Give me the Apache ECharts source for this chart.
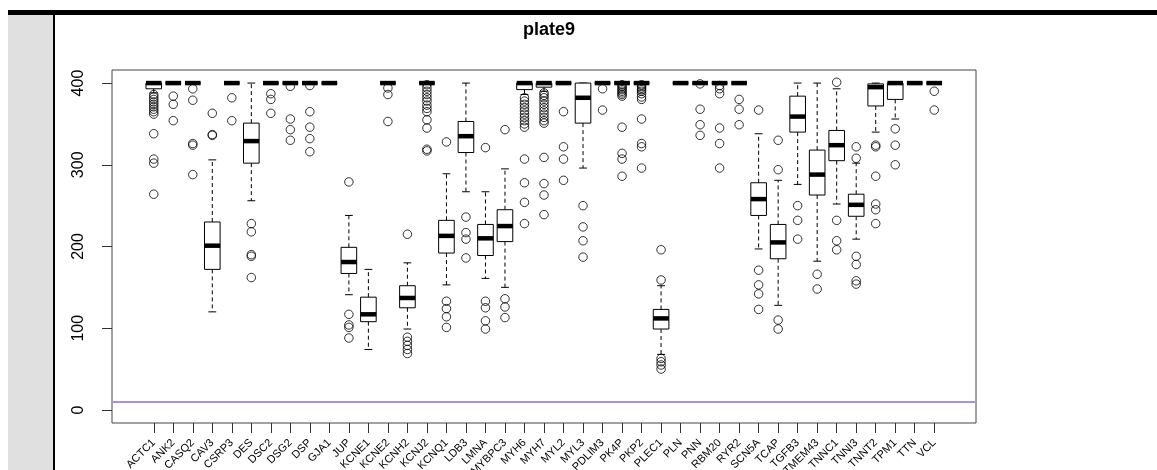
<!DOCTYPE html>
<html><head><meta charset="utf-8">
<script src="https://cdn.jsdelivr.net/npm/echarts@6/dist/echarts.min.js"></script>
<style>html,body{margin:0;padding:0;background:#fff}#c{width:1157px;height:470px}</style>
</head><body><div id="c"></div>
<script>
const genes = ['ACTC1','ANK2','CASQ2','CAV3','CSRP3','DES','DSC2','DSG2','DSP','GJA1','JUP','KCNE1','KCNE2','KCNH2','KCNJ2','KCNQ1','LDB3','LMNA','MYBPC3','MYH6','MYH7','MYL2','MYL3','PDLIM3','PK4P','PKP2','PLEC1','PLN','PNN','RBM20','RYR2','SCN5A','TCAP','TGFB3','TMEM43','TNNC1','TNNI3','TNNT2','TPM1','TTN','VCL'];
const whiskerLow = [388,400,400,120,400,256,400,400,400,400,141,74,400,99,400,153,267,161,150,386,390,400,296,400,400,400,68,400,400,400,400,197,128,276,182,252,209,340,356,400,400];
const q1         = [393,400,400,172,400,302,400,400,400,400,167,108,400,125,400,192,315,189,206,392,395,400,351,400,400,400,99,400,400,400,400,238,185,340,263,305,237,372,380,400,400];
const median     = [400,400,400,201,400,329,400,400,400,400,181,117,400,137,400,213,335,210,225,400,400,400,382,400,400,400,112,400,400,400,400,258,205,359,288,324,251,395,400,400,400];
const q3         = [400,400,400,230,400,351,400,400,400,400,199,138,400,152,400,232,353,227,245,400,400,400,400,400,400,400,123,400,400,400,400,278,227,384,318,342,264,399,400,400,400];
const whiskerHigh= [400,400,400,306,400,400,400,400,400,400,238,172,400,180,400,289,400,267,295,400,400,400,400,400,400,400,152,400,400,400,400,338,281,400,400,393,302,400,400,400,400];
const outliers = [
  [386,383,380,377,374,371,368,365,362,338,307,302,264],
  [384,374,354],
  [393,379,326,324,288],
  [363,337,336],
  [382,354],
  [228,218,190,188,162],
  [387,380,363],
  [396,356,343,330],
  [397,365,346,332,316],
  [],
  [279,117,104,101,88],
  [],
  [394,386,353],
  [215,89,84,79,74,69],
  [398,394,390,386,382,378,373,369,365,355,345,319,317],
  [328,133,124,114,101],
  [236,217,209,186],
  [321,133,125,109,99],
  [343,136,126,113],
  [382,378,374,370,366,362,358,354,350,346,307,278,254,228],
  [388,385,382,378,374,370,366,362,358,354,351,309,277,263,239],
  [365,322,307,281],
  [250,224,207,187],
  [393,367],
  [398,396,394,392,390,388,386,384,346,314,307,286],
  [398,396,394,392,390,387,383,380,356,326,322,296],
  [196,159,63,59,55,50],
  [],
  [399,368,349,336],
  [397,393,387,345,326,296],
  [380,368,349],
  [367,171,153,142,123],
  [330,294,110,99],
  [250,232,209],
  [166,148],
  [401,232,207,196],
  [322,308,188,178,158,154],
  [324,322,286,252,245,228],
  [344,324,300],
  [],
  [390,367]
];
const yTicks = [0,100,200,300,400];
const refLineValue = 10;
const chartTitle = 'plate9';

const FONT = '"Liberation Sans", Arial, Helvetica, sans-serif';
const xPositions = genes.map((g, i) => i + 1);
const boxData = genes.map((g, i) => [i + 1, whiskerLow[i], q1[i], median[i], q3[i], whiskerHigh[i]]);
const outlierData = [];
outliers.forEach((arr, i) => arr.forEach(v => outlierData.push([i + 1, v])));

const chart = echarts.init(document.getElementById('c'), null, {renderer: 'canvas'});
chart.setOption({
  animation: false,
  backgroundColor: '#fff',
  title: {
    text: chartTitle, left: 544, top: 16, textAlign: 'center',
    textStyle: {fontSize: 18, fontWeight: 'bold', color: '#000', fontFamily: FONT}
  },
  graphic: [
    {type: 'rect', left: 8, top: 15, shape: {width: 45, height: 455}, style: {fill: '#e0e0e0'}, silent: true},
    {type: 'rect', left: 8, top: 10, shape: {width: 1149, height: 5}, style: {fill: '#000'}, silent: true},
    {type: 'rect', left: 53, top: 15, shape: {width: 2, height: 455}, style: {fill: '#000'}, silent: true}
  ],
  grid: {left: 112, right: 181, top: 70, bottom: 47, containLabel: false, outerBoundsMode: 'none',
    show: true, borderColor: '#444', borderWidth: 1, backgroundColor: 'transparent'},
  xAxis: {
    type: 'value', min: -1.14, max: 43.14,
    axisLine: {show: false, onZero: false}, splitLine: {show: false},
    axisTick: {show: true, inside: false, length: 10, customValues: xPositions, lineStyle: {color: '#333'}},
    axisLabel: {customValues: xPositions, rotate: 45, margin: 18, fontSize: 11, color: '#000', fontFamily: FONT,
      formatter: v => genes[Math.round(v) - 1] || ''}
  },
  yAxis: {
    type: 'value', min: -16, max: 416,
    axisLine: {show: false, onZero: false}, splitLine: {show: false},
    axisTick: {show: true, inside: false, length: 10, customValues: yTicks, lineStyle: {color: '#333'}},
    axisLabel: {customValues: yTicks, rotate: 90, margin: 25, fontSize: 16, color: '#000', fontFamily: FONT}
  },
  series: [
    {
      type: 'custom',
      data: boxData,
      encode: {x: 0, y: [1, 5]},
      clip: true,
      renderItem: function (params, api) {
        const x = api.value(0);
        const lo = api.value(1), a = api.value(2), m = api.value(3), b = api.value(4), hi = api.value(5);
        const hw = api.size([0.4, 0])[0];
        const sw = api.size([0.2, 0])[0];
        const pLo = api.coord([x, lo]), pA = api.coord([x, a]), pM = api.coord([x, m]), pB = api.coord([x, b]), pHi = api.coord([x, hi]);
        const cx = pM[0];
        const dash = {stroke: '#000', lineWidth: 1, lineDash: [4, 3]};
        const solid = {stroke: '#000', lineWidth: 1};
        const ch = [];
        if (hi > b) ch.push({type: 'line', shape: {x1: cx, y1: pB[1], x2: cx, y2: pHi[1]}, style: dash});
        if (lo < a) ch.push({type: 'line', shape: {x1: cx, y1: pA[1], x2: cx, y2: pLo[1]}, style: dash});
        ch.push({type: 'line', shape: {x1: cx - sw, y1: pHi[1], x2: cx + sw, y2: pHi[1]}, style: solid});
        ch.push({type: 'line', shape: {x1: cx - sw, y1: pLo[1], x2: cx + sw, y2: pLo[1]}, style: solid});
        ch.push({type: 'rect', shape: {x: cx - hw, y: pB[1], width: 2 * hw, height: pA[1] - pB[1]}, style: {fill: '#fff', stroke: '#000', lineWidth: 1}});
        ch.push({type: 'line', shape: {x1: cx - hw, y1: pM[1], x2: cx + hw, y2: pM[1]}, style: {stroke: '#000', lineWidth: 4.5, lineCap: 'butt'}});
        return {type: 'group', children: ch};
      }
    },
    {
      type: 'scatter',
      data: outlierData,
      symbol: 'circle',
      symbolSize: 8.5,
      itemStyle: {color: 'rgba(0,0,0,0)', borderColor: '#000', borderWidth: 1},
      silent: true,
      markLine: {
        silent: true, symbol: ['none', 'none'], label: {show: false},
        lineStyle: {color: '#a48ff2', width: 2, type: 'solid'},
        data: [{yAxis: refLineValue}]
      }
    }
  ]
});
</script>
</body></html>
